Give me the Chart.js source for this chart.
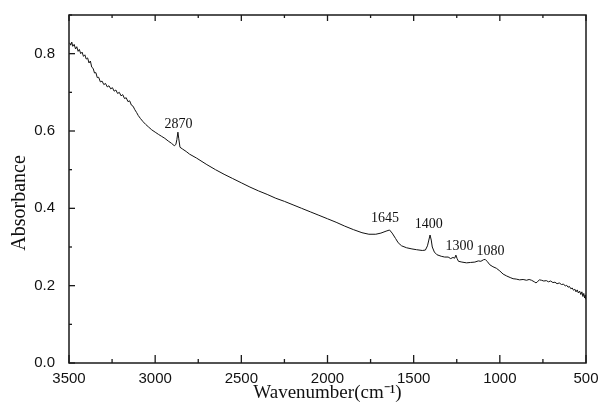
<!DOCTYPE html>
<html>
<head>
<meta charset="utf-8">
<script src="https://cdn.jsdelivr.net/npm/chart.js@4/dist/chart.umd.min.js"></script>
<style>
	body { margin: 0; background: #fff; }
	canvas { display: block; }
</style>
</head>
<body>
<canvas id="spectrum" width="599" height="417"></canvas>
<script>
// wavenumber (cm-1) and absorbance
var wavenumbers = [
	3496, 3490, 3484, 3478, 3470, 3462, 3455, 3447, 3440, 3432, 3424, 3416, 3408, 3400,
	3392, 3384, 3376, 3368, 3360, 3352, 3344, 3336, 3328, 3318, 3308, 3298, 3288, 3278,
	3268, 3258, 3248, 3238, 3228, 3218, 3208, 3198, 3188, 3178, 3168, 3158, 3148, 3138,
	3128, 3118, 3108, 3098, 3085, 3070, 3055, 3040, 3020, 3000, 2980, 2962, 2944, 2924,
	2905, 2889, 2880, 2874, 2868, 2863, 2856, 2840, 2820, 2800, 2760, 2700, 2650, 2600,
	2550, 2500, 2450, 2400, 2350, 2300, 2250, 2200, 2150, 2100, 2050, 2000, 1950, 1900,
	1850, 1800, 1760, 1720, 1690, 1660, 1640, 1625, 1605, 1590, 1570, 1541, 1510, 1483,
	1450, 1432, 1420, 1412, 1405, 1398, 1392, 1380, 1365, 1340, 1320, 1300, 1285, 1272,
	1262, 1255, 1248, 1240, 1220, 1193, 1170, 1145, 1125, 1110, 1095, 1085, 1072, 1058,
	1040, 1020, 1000, 981, 960, 940, 923, 905, 885, 865, 845, 830, 816, 800,
	790, 780, 770, 758, 745, 730, 718, 705, 692, 680, 668, 655, 642, 630,
	620, 612, 604, 596, 588, 580, 572, 565, 558, 551, 544, 537, 530, 524,
	518, 513, 508, 504, 501
]
var absorbance = [
	0.828, 0.822, 0.830, 0.819, 0.824, 0.812, 0.818, 0.806, 0.811, 0.800, 0.804, 0.793, 0.797, 0.786,
	0.789, 0.776, 0.781, 0.765, 0.762, 0.750, 0.751, 0.738, 0.739, 0.727, 0.729, 0.720, 0.723, 0.714,
	0.717, 0.709, 0.712, 0.703, 0.706, 0.697, 0.700, 0.691, 0.694, 0.684, 0.686, 0.676, 0.678, 0.667,
	0.664, 0.655, 0.648, 0.640, 0.632, 0.624, 0.617, 0.611, 0.603, 0.597, 0.591, 0.586, 0.581, 0.574,
	0.568, 0.562, 0.565, 0.578, 0.597, 0.580, 0.558, 0.553, 0.547, 0.540, 0.530, 0.513, 0.500, 0.488,
	0.477, 0.466, 0.455, 0.445, 0.436, 0.426, 0.418, 0.409, 0.400, 0.391, 0.382, 0.373, 0.364, 0.354,
	0.345, 0.337, 0.333, 0.333, 0.336, 0.341, 0.344, 0.336, 0.322, 0.311, 0.303, 0.298, 0.295, 0.293,
	0.291, 0.292, 0.303, 0.318, 0.331, 0.318, 0.300, 0.287, 0.280, 0.276, 0.274, 0.274, 0.270, 0.273,
	0.271, 0.279, 0.270, 0.263, 0.261, 0.259, 0.260, 0.261, 0.264, 0.263, 0.267, 0.268, 0.262, 0.254,
	0.249, 0.245, 0.238, 0.230, 0.225, 0.221, 0.218, 0.217, 0.215, 0.216, 0.214, 0.216, 0.214, 0.210,
	0.207, 0.211, 0.215, 0.214, 0.212, 0.213, 0.210, 0.212, 0.208, 0.209, 0.205, 0.207, 0.203, 0.204,
	0.199, 0.201, 0.196, 0.198, 0.192, 0.194, 0.188, 0.191, 0.184, 0.189, 0.181, 0.186, 0.177, 0.184,
	0.172, 0.180, 0.168, 0.176, 0.165
]

// peak labels (text baseline sits at the given absorbance)
var peakLabels = ['2870', '1645', '1400', '1300', '1080']
var peakX = [2865, 1667, 1413, 1234, 1054]
var peakY = [0.608, 0.364, 0.350, 0.293, 0.280]

var xTitle = 'Wavenumber(cm\u207B\u00B9)'
var yTitle = 'Absorbance'

function buildPoints(xs, ys) {
	var pts = []
	for (var i = 0; i < xs.length; i++) {
		pts.push({ x: xs[i], y: ys[i] })
	}
	return pts
}

var framePlugin = {
	id: 'frame',
	afterDraw: function (chart) {
		var ctx = chart.ctx
		var area = chart.chartArea
		var xs = chart.scales.x
		var ys = chart.scales.y
		ctx.save()
		ctx.strokeStyle = '#1a1a1a'
		ctx.lineWidth = 1.5
		ctx.strokeRect(area.left, area.top, area.right - area.left, area.bottom - area.top)

		// inward ticks, bottom and top
		ctx.lineWidth = 1.3
		xs.ticks.forEach(function (t) {
			var px = xs.getPixelForValue(t.value)
			var major = t.value % 500 === 0
			ctx.beginPath()
			ctx.moveTo(px, area.bottom)
			ctx.lineTo(px, area.bottom - (major ? 8 : 4))
			ctx.moveTo(px, area.top)
			ctx.lineTo(px, area.top + (major ? 6 : 3))
			ctx.stroke()
		})
		// inward ticks, left
		ys.ticks.forEach(function (t) {
			var py = ys.getPixelForValue(t.value)
			var major = Math.round(t.value * 10) % 2 === 0
			ctx.beginPath()
			ctx.moveTo(area.left, py)
			ctx.lineTo(area.left + (major ? 6 : 3), py)
			ctx.stroke()
		})

		// peak labels
		ctx.fillStyle = '#111'
		ctx.font = '14px "Liberation Serif"'
		ctx.textAlign = 'center'
		ctx.textBaseline = 'alphabetic'
		for (var i = 0; i < peakLabels.length; i++) {
			ctx.fillText(peakLabels[i], xs.getPixelForValue(peakX[i]), ys.getPixelForValue(peakY[i]))
		}

		// y axis title
		ctx.translate(25, 203)
		ctx.rotate(-Math.PI / 2)
		ctx.font = '20px "Liberation Serif"'
		ctx.fillText(yTitle, 0, 0)
		ctx.restore()
	}
}

function initSpectrum(id) {
	var chart = new Chart(document.getElementById(id), {
		type: 'line',
		data: {
			datasets: [{
				data: buildPoints(wavenumbers, absorbance),
				borderColor: '#111',
				borderWidth: 1,
				pointRadius: 0,
				tension: 0,
				fill: false
			}]
		},
		options: {
			responsive: false,
			animation: false,
			layout: { padding: { top: 10, right: 13, left: 0, bottom: 0 } },
			plugins: {
				legend: { display: false },
				tooltip: { enabled: false }
			},
			scales: {
				x: {
					type: 'linear',
					reverse: true,
					min: 500,
					max: 3500,
					grid: { display: false },
					border: { display: false },
					afterFit: function (scale) { scale.height = 54 },
					ticks: {
						stepSize: 250,
						autoSkip: false,
						maxRotation: 0,
						padding: -1,
						color: '#111',
						font: { family: '"Liberation Sans"', size: 15 },
						callback: function (v) { return v % 500 === 0 ? String(v) : '' }
					},
					title: {
						display: true,
						text: xTitle,
						color: '#111',
						font: { family: '"Liberation Serif"', size: 19 },
						padding: { top: 0, bottom: 13 }
					}
				},
				y: {
					min: 0,
					max: 0.9,
					grid: { display: false },
					border: { display: false },
					afterFit: function (scale) { scale.width = 69 },
					ticks: {
						stepSize: 0.1,
						autoSkip: false,
						padding: 6,
						color: '#111',
						font: { family: '"Liberation Sans"', size: 15 },
						callback: function (v) { return Math.round(v * 10) % 2 === 0 ? v.toFixed(1) : '' }
					}
				}
			}
		},
		plugins: [framePlugin]
	})
	return chart
}

initSpectrum('spectrum')
</script>
</body>
</html>
